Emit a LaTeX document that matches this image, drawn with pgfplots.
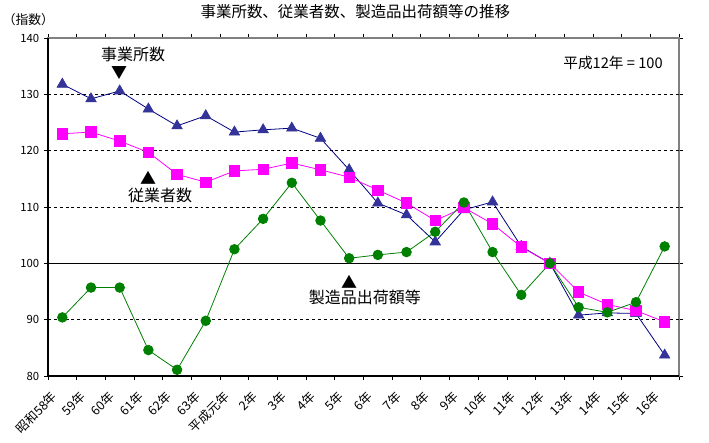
\documentclass[border=0pt]{standalone}
\usepackage{pgfplots}
\pgfplotsset{compat=1.18}
\usepackage{fontspec}
\setmainfont{Noto Sans CJK JP}
\definecolor{navy}{HTML}{000080}
\definecolor{tri}{HTML}{333399}
\definecolor{mag}{HTML}{FF00FF}
\definecolor{grn}{HTML}{008000}
\begin{document}
\begin{tikzpicture}
\path[use as bounding box] (0,0) rectangle (531.75pt,331.5pt);
\begin{axis}[
  at={(36pt,49.5pt)}, anchor=south west,
  scale only axis, width=473.25pt, height=253.5pt,
  xmin=-0.5, xmax=21.5, ymin=80, ymax=140,
  ytick={80,90,...,140},
  xtick={0,...,21},
  xticklabels={昭和58年,59年,60年,61年,62年,63年,平成元年,2年,3年,4年,5年,6年,7年,8年,9年,10年,11年,12年,13年,14年,15年,16年},
  x tick label style={rotate=45, anchor=north east, font=\fontsize{9.4}{10}\selectfont, inner sep=0.5pt, xshift=-11.3pt, yshift=1.4pt},
  y tick label style={font=\fontsize{8.5}{10}\selectfont},
  /pgf/number format/assume math mode=true,
  every major x tick/.append style={draw=none},
  minor xtick={-0.5,0.5,...,21.5},
  tick align=outside, major tick length=3pt, minor tick length=3pt,
  tick style={black, line width=0.6pt},
  axis line style={draw=gray, line width=0.8pt},
  clip=false,
]
\foreach \yy in {90,110,120,130}{
  \edef\tmp{\noexpand\draw[black, line width=0.6pt, dash pattern=on 2.2pt off 2.2pt] (axis cs:-0.5,\yy) -- (axis cs:21.5,\yy);}
  \tmp
}
\draw[black, line width=0.8pt] (axis cs:-0.5,100) -- (axis cs:21.5,100);

\addplot[navy, line width=0.6pt, mark=triangle*, mark size=4.6pt, mark options={fill=tri, draw=tri, line width=0.4pt}] coordinates {
(0,131.8) (1,129.2) (2,130.6) (3,127.4) (4,124.4) (5,126.2) (6,123.3) (7,123.7) (8,124.0) (9,122.2) (10,116.6) (11,110.7) (12,108.6) (13,103.8) (14,109.5) (15,110.9) (16,103.0) (17,100.0) (18,90.8) (19,91.2) (20,91.1) (21,83.7)};

\addplot[mag, line width=0.6pt, mark=square*, mark size=3.9pt, mark options={fill=mag, draw=mag}] coordinates {
(0,123.0) (1,123.3) (2,121.7) (3,119.7) (4,115.8) (5,114.4) (6,116.4) (7,116.7) (8,117.8) (9,116.6) (10,115.3) (11,113.0) (12,110.7) (13,107.6) (14,109.9) (15,107.0) (16,102.9) (17,100.0) (18,94.9) (19,92.7) (20,91.6) (21,89.6)};

\addplot[grn, line width=0.6pt, mark=*, mark size=3.6pt, mark options={fill=grn, draw=grn}] coordinates {
(0,90.4) (1,95.7) (2,95.7) (3,84.6) (4,81.1) (5,89.8) (6,102.5) (7,107.9) (8,114.3) (9,107.6) (10,100.9) (11,101.5) (12,102.0) (13,105.6) (14,110.8) (15,102.0) (16,94.4) (17,100.0) (18,92.2) (19,91.3) (20,93.1) (21,103.0)};

\draw[black, line width=0.8pt] (rel axis cs:0,1) -- (rel axis cs:0,0) -- (rel axis cs:1,0);

\node[font=\fontsize{12}{14}\selectfont] at (axis cs:2.47,137.0) {事業所数};
\node[font=\fontsize{12}{14}\selectfont] at (axis cs:1.98,133.8) {▼};
\node[font=\fontsize{12}{14}\selectfont] at (axis cs:2.99,115.1) {▲};
\node[font=\fontsize{12}{14}\selectfont] at (axis cs:3.41,112.1) {従業者数};
\node[font=\fontsize{12}{14}\selectfont] at (axis cs:10.0,96.7) {▲};
\node[font=\fontsize{12}{14}\selectfont] at (axis cs:10.55,94.0) {製造品出荷額等};
\node[font=\fontsize{11}{13}\selectfont] at (axis cs:19.2,135.6) {平成12年 = 100};
\node[font=\fontsize{11.6}{14}\selectfont] at (rel axis cs:0.487,1.077) {事業所数、従業者数、製造品出荷額等の推移};
\node[font=\fontsize{9.6}{12}\selectfont, inner sep=0pt] at (rel axis cs:-0.031,1.053) {（指数）};
\end{axis}
\end{tikzpicture}
\end{document}
